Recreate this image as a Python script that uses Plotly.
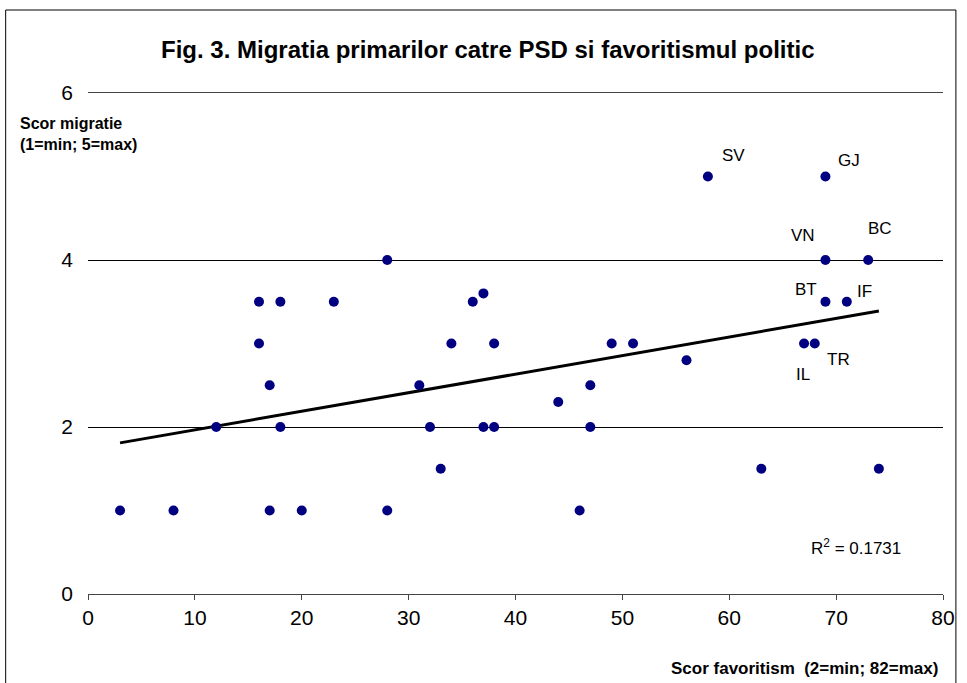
import numpy as np
import plotly.graph_objects as go

# Data
fav_score = [3, 8, 12, 16, 16, 17, 17, 18, 18, 20, 23, 28, 28, 31, 32, 33, 34, 36, 37, 37,
             38, 38, 44, 46, 47, 47, 49, 51, 56, 58, 63, 67, 68, 69, 69, 69, 71, 73, 74]
mig_score = [1, 1, 2, 3.5, 3, 2.5, 1, 3.5, 2, 1, 3.5, 4, 1, 2.5, 2, 1.5, 3, 3.5, 3.6, 2,
             3, 2, 2.3, 1, 2.5, 2, 3, 3, 2.8, 5, 1.5, 3, 3, 5, 4, 3.5, 3.5, 4, 1.5]

label_names = ["SV", "GJ", "VN", "BC", "BT", "IF", "IL", "TR"]
label_x = [58, 69, 69, 73, 69, 71, 67, 68]
label_y = [5, 5, 4, 4, 3.5, 3.5, 3, 3]
label_dx = [26, 24, -22, 12, -19, 18, -1, 24]
label_dy = [21, 16, 25, 32, 12, 10, -31, -16]

x_ticks = [0, 10, 20, 30, 40, 50, 60, 70, 80]
y_ticks = [0, 2, 4, 6]
r2_text = "R<sup>2</sup> = 0.1731"

title_text = "Fig. 3. Migratia primarilor catre PSD si favoritismul politic"
y_title = "Scor migratie<br>(1=min; 5=max)"
x_title = "Scor favoritism  (2=min; 82=max)"

# Linear trend
slope, intercept = np.polyfit(fav_score, mig_score, 1)
tx = [min(fav_score), max(fav_score)]
ty = [slope * v + intercept for v in tx]

W, H = 967, 683
ML, MR, MT, MB = 88, 17, 93, 89
pw, ph = W - ML - MR, H - MT - MB

def px_to_paper_x(px):
    return (px - ML) / pw

def px_to_paper_y(py):
    return (H - MB - py) / ph

fig = go.Figure()
fig.add_trace(go.Scatter(x=tx, y=ty, mode="lines",
                         line=dict(color="black", width=3), hoverinfo="skip",
                         showlegend=False))
fig.add_trace(go.Scatter(x=fav_score, y=mig_score, mode="markers",
                         marker=dict(color="#000080", size=10),
                         showlegend=False))

font = "Liberation Sans, Arial, sans-serif"
annotations = []
for n, x, y, dx, dy in zip(label_names, label_x, label_y, label_dx, label_dy):
    annotations.append(dict(x=x, y=y, xref="x", yref="y", text=n, showarrow=False,
                            xshift=dx, yshift=dy, xanchor="center", yanchor="middle",
                            font=dict(family=font, size=17, color="black")))

annotations += [
    dict(x=px_to_paper_x(862), y=px_to_paper_y(547), xref="paper", yref="paper",
         xanchor="center", yanchor="middle",
         text=r2_text, showarrow=False, font=dict(family=font, size=17, color="black")),
    dict(x=px_to_paper_x(491), y=px_to_paper_y(50), xref="paper", yref="paper",
         xanchor="center", yanchor="middle",
         text="<b>" + title_text + "</b>", showarrow=False,
         font=dict(family=font, size=24, color="black")),
    dict(x=px_to_paper_x(17), y=px_to_paper_y(134), xref="paper", yref="paper",
         xanchor="left", yanchor="middle", align="left",
         text="<b>" + y_title + "</b>", showarrow=False,
         font=dict(family=font, size=16, color="black")),
    dict(x=px_to_paper_x(947), y=px_to_paper_y(668), xref="paper", yref="paper",
         xanchor="right", yanchor="middle", text="<b>" + x_title + "</b>", showarrow=False,
         font=dict(family=font, size=17, color="black")),
]

fig.update_layout(
    width=W, height=H, autosize=False,
    margin=dict(l=ML, r=MR, t=MT, b=MB),
    paper_bgcolor="white", plot_bgcolor="white",
    font=dict(family=font, color="black"),
    annotations=annotations,
    shapes=[dict(type="rect", xref="paper", yref="paper",
                 x0=px_to_paper_x(5), x1=px_to_paper_x(963),
                 y0=px_to_paper_y(700), y1=px_to_paper_y(10),
                 line=dict(color="black", width=1), fillcolor="rgba(0,0,0,0)",
                 layer="below")],
    xaxis=dict(range=[0, 80], tickvals=x_ticks, showgrid=False, zeroline=False,
               showline=True, linecolor="#444", linewidth=1, mirror=True,
               ticks="outside", ticklen=5, tickcolor="#444",
               tickfont=dict(size=21, family=font, color="black")),
    yaxis=dict(range=[0, 6], tickvals=y_ticks, showgrid=True, gridcolor="black",
               gridwidth=1, zeroline=False, showline=False,
               ticks="", ticklabelstandoff=14,
               tickfont=dict(size=21, family=font, color="black")),
)

fig.write_html("out.html", config={"displayModeBar": False, "responsive": False},
               post_script="document.body.style.margin='0';"
                           "document.body.style.overflow='hidden';")
